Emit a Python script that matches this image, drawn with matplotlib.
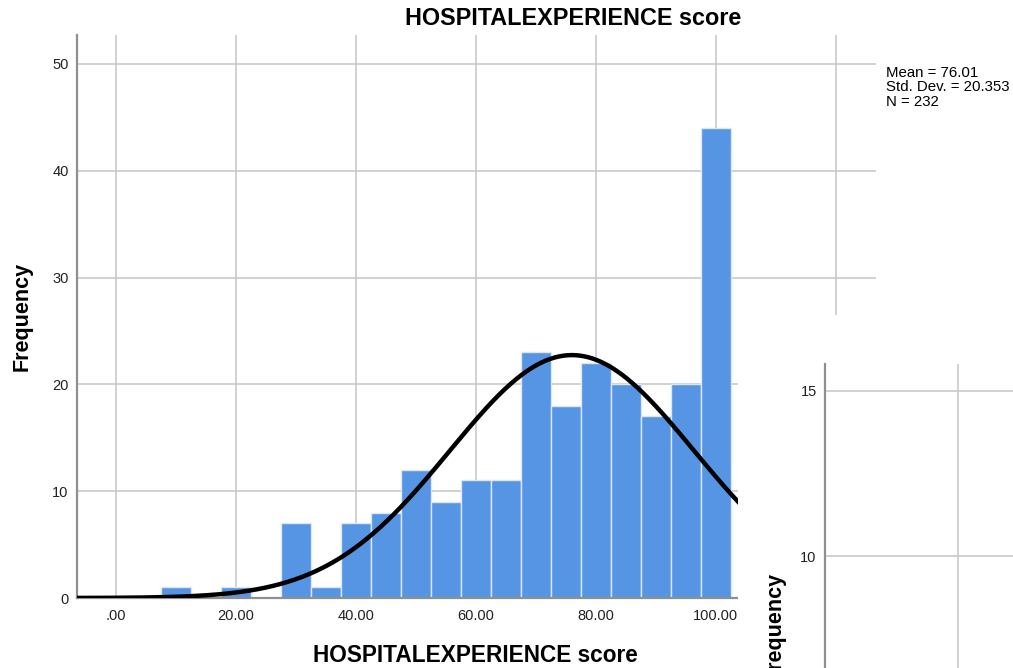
import matplotlib as mpl
import matplotlib.pyplot as plt
from matplotlib.patches import Rectangle
import numpy as np

mpl.rcParams["font.family"] = ["Liberation Sans", "DejaVu Sans"]

# histogram data (bin centres, width 5)
bin_centres = [10, 15, 20, 25, 30, 35, 40, 45, 50, 55, 60, 65, 70, 75, 80, 85, 90, 95, 100]
counts = [1, 0, 1, 0, 7, 1, 7, 8, 12, 9, 11, 11, 23, 18, 22, 20, 17, 20, 44]
bin_width = 5
mean_val = 76.01
std_val = 20.353
n_val = 232

x_ticks = [0, 20, 40, 60, 80, 100, 120]
x_ticklabels = [".00", "20.00", "40.00", "60.00", "80.00", "100.00", ""]
y_ticks = [0, 10, 20, 30, 40, 50]

# second (overlapping) chart, only partly visible
inset_y_ticks = [10, 15]
inset_x_grid = [0.71]

BAR_COLOR = "#5595e4"
GRID_COLOR = "#c9c9c9"
SPINE_COLOR = "#8f8f8f"
W, H = 1013, 668


def px_box(left, top, right, bottom):
	"""pixel box -> figure fraction rect"""
	return [left / W, 1 - bottom / H, (right - left) / W, (bottom - top) / H]


fig = plt.figure(figsize=(W / 100, H / 100), dpi=100)

# MAIN HISTOGRAM
ax = fig.add_axes(px_box(77, 35, 876, 598))
ax.set_axisbelow(True)
ax.bar(bin_centres, counts, width=bin_width, color=BAR_COLOR,
       edgecolor="#dce8fa", linewidth=1.0, zorder=2)

xs = np.linspace(-10, 130, 600)
pdf = np.exp(-0.5 * ((xs - mean_val) / std_val) ** 2) / (std_val * np.sqrt(2 * np.pi))
ax.plot(xs, n_val * bin_width * pdf, color="black", lw=3.2, zorder=3,
        solid_capstyle="butt")

ax.set_xlim(-6.5, 126.7)
ax.set_ylim(0, 52.7)
ax.set_xticks(x_ticks)
ax.set_xticklabels(x_ticklabels)
ax.set_yticks(y_ticks)
ax.tick_params(length=0, labelsize=10.5, colors="#222222")
ax.tick_params(axis="x", pad=8)
ax.tick_params(axis="y", pad=6)
ax.grid(True, color=GRID_COLOR, lw=1.2)
for side in ["top", "right"]:
	ax.spines[side].set_visible(False)
for side in ["left", "bottom"]:
	ax.spines[side].set_color(SPINE_COLOR)
	ax.spines[side].set_linewidth(1.6)

# Titles and labels as figure text
fig.text(573.5 / W, 1 - 25 / H, "HOSPITALEXPERIENCE score",
         ha="center", va="baseline", fontsize=16.8, fontweight="bold")
fig.text(475.5 / W, 1 - 662 / H, "HOSPITALEXPERIENCE score",
         ha="center", va="baseline", fontsize=16.3, fontweight="bold")
fig.text(22 / W, 1 - 316 / H, "Frequency", rotation=90,
         ha="center", va="center", fontsize=15.5, fontweight="bold")
fig.text(886 / W, 1 - 66 / H,
         f"Mean = {mean_val:.2f}\nStd. Dev. = {std_val:.3f}\nN = {n_val}",
         ha="left", va="top", fontsize=10.8, linespacing=1.03)

# WHITE BACKGROUND OF SECOND CHART COVERING THE FIRST ONE
fig.patches.append(Rectangle((738 / W, 0), (W - 738) / W, (H - 315) / H,
                             transform=fig.transFigure, facecolor="white",
                             edgecolor="none", zorder=5))

# SECOND CHART (CUT OFF)
ax2 = fig.add_axes(px_box(825, 364, W, H), zorder=6)
ax2.set_xlim(0, 1)
ax2.set_ylim(6.613, 15.81)
ax2.set_yticks(inset_y_ticks)
ax2.set_xticks(inset_x_grid)
ax2.set_xticklabels([])
ax2.tick_params(length=0, labelsize=10.5, colors="#222222", pad=6)
ax2.grid(True, color=GRID_COLOR, lw=1.2)
for side in ["top", "right", "bottom"]:
	ax2.spines[side].set_visible(False)
ax2.spines["left"].set_color(SPINE_COLOR)
ax2.spines["left"].set_linewidth(1.6)
fig.text(775 / W, 1 - 572 / H, "Frequency", rotation=90, ha="center",
         va="top", fontsize=15.5, fontweight="bold", zorder=7)

plt.savefig("out.png", dpi=100)
